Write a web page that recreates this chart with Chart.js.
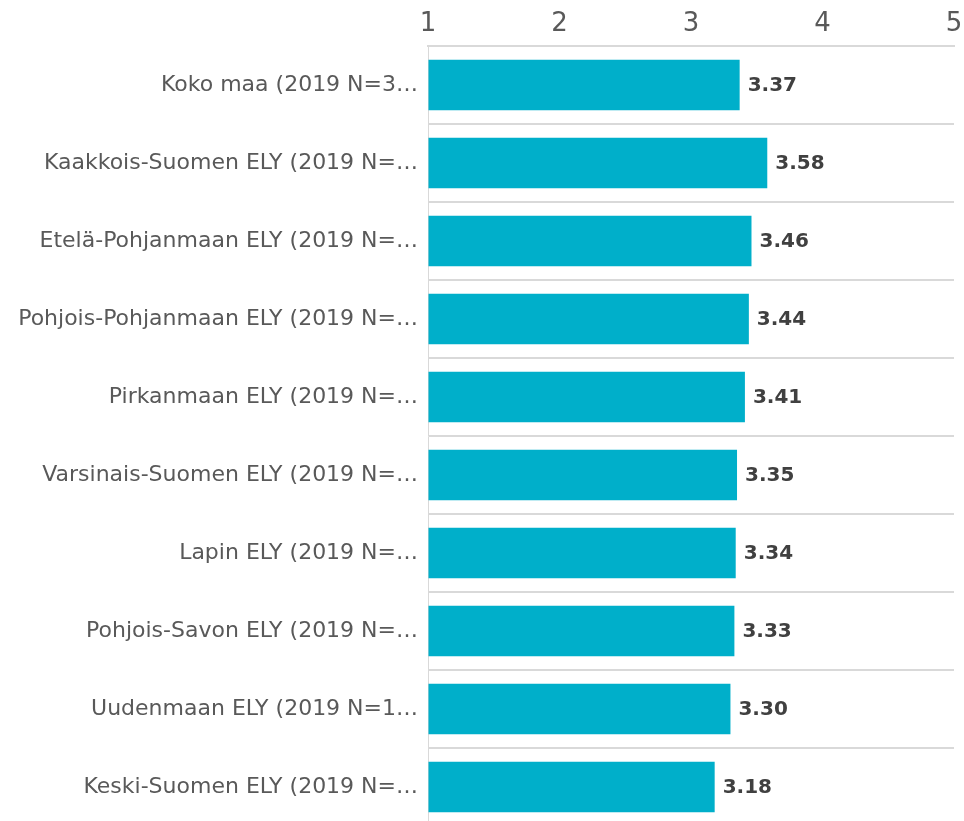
<!DOCTYPE html>
<html lang="fi">
  <head>
    <meta charset="UTF-8" />
    <title>ELY-keskukset</title>
    <script src="https://cdn.jsdelivr.net/npm/chart.js"></script>
    <style>
      html, body { margin: 0; padding: 0; background: #fff; overflow: hidden; }
    </style>
  </head>
  <body>
    <canvas id="elyChart" width="964" height="826"></canvas>

    <script>
      const categories = [
        "Koko maa (2019 N=3…",
        "Kaakkois-Suomen ELY (2019 N=…",
        "Etelä-Pohjanmaan ELY (2019 N=…",
        "Pohjois-Pohjanmaan ELY (2019 N=…",
        "Pirkanmaan ELY (2019 N=…",
        "Varsinais-Suomen ELY (2019 N=…",
        "Lapin ELY (2019 N=…",
        "Pohjois-Savon ELY (2019 N=…",
        "Uudenmaan ELY (2019 N=1…",
        "Keski-Suomen ELY (2019 N=…",
      ];
      const scores = [3.37, 3.58, 3.46, 3.44, 3.41, 3.35, 3.34, 3.33, 3.3, 3.18];
      const tickValues = [1, 2, 3, 4, 5];

      const fontFamily = "'DejaVu Sans', Verdana, sans-serif";

      // value labels at the end of each bar
      const barLabels = {
        id: "barLabels",
        afterDatasetsDraw(chart) {
          const ctx = chart.ctx;
          const meta = chart.getDatasetMeta(0);
          ctx.save();
          ctx.font = "bold 20px " + fontFamily;
          ctx.fillStyle = "#404040";
          ctx.textAlign = "left";
          ctx.textBaseline = "middle";
          meta.data.forEach((bar, i) => {
            ctx.fillText(scores[i].toFixed(2), bar.x + 8, bar.y + 1);
          });
          ctx.restore();
        },
      };

      const ctx = document.getElementById("elyChart").getContext("2d");
      new Chart(ctx, {
        type: "bar",
        data: {
          labels: categories,
          datasets: [
            {
              data: scores,
              base: 1,
              backgroundColor: "#00AFCA",
              borderWidth: 0,
              categoryPercentage: 1,
              barPercentage: 0.65,
            },
          ],
        },
        options: {
          indexAxis: "y",
          responsive: false,
          animation: false,
          devicePixelRatio: 1,
          layout: { padding: { left: 0, right: 10, top: 0, bottom: 0 } },
          plugins: {
            legend: { display: false },
            tooltip: { enabled: false },
          },
          scales: {
            x: {
              position: "top",
              min: 1,
              max: 5,
              afterBuildTicks(scale) {
                scale.ticks = tickValues.map((v) => ({ value: v }));
              },
              afterFit(scale) {
                scale.height = 46;
                scale.paddingLeft = 0;
                scale.paddingRight = 0;
              },
              grid: { color: "rgba(0,0,0,0)", drawTicks: false },
              border: { display: true, color: "#d9d9d9", width: 2 },
              ticks: {
                padding: 6,
                color: "#595959",
                font: { family: fontFamily, size: 26 },
              },
            },
            y: {
              afterFit(scale) {
                scale.width = 428;
                scale.paddingTop = 0;
                scale.paddingBottom = 0;
              },
              grid: { color: "#d9d9d9", lineWidth: 2, drawTicks: false, offset: true },
              border: { display: true, color: "#d9d9d9", width: 1 },
              ticks: {
                padding: 10,
                color: "#595959",
                font: { family: fontFamily, size: 22 },
              },
            },
          },
        },
        plugins: [barLabels],
      });
    </script>
  </body>
</html>
